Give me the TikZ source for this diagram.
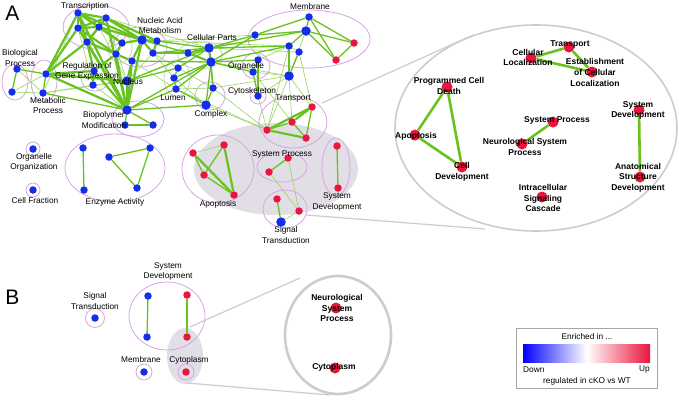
\documentclass[tikz,border=0pt]{standalone}
\usepackage{fontspec}
\setmainfont{Liberation Sans}
\definecolor{nblue}{RGB}{20,45,235}
\definecolor{nred}{RGB}{235,20,60}
\definecolor{egreen}{RGB}{105,195,30}
\definecolor{lgreen}{RGB}{150,215,90}
\definecolor{gpink}{RGB}{215,165,228}
\definecolor{zgray}{RGB}{205,205,205}
\definecolor{zfill}{RGB}{226,222,230}
\pgfdeclarelayer{bg}
\pgfdeclarelayer{edges}
\pgfsetlayers{bg,edges,main}
\tikzstyle{bn}   = [circle, fill=nblue, inner sep=0pt, minimum size=7.5pt]
\tikzstyle{bnb}  = [bn, minimum size=9.5pt]
\tikzstyle{rn}   = [circle, fill=nred, inner sep=0pt, minimum size=7.5pt]
\tikzstyle{rnz}  = [rn, minimum size=11pt]
\tikzstyle{egk}  = [draw=egreen, line width=2.2pt]
\tikzstyle{eg}   = [draw=egreen, line width=1.3pt]
\tikzstyle{egt}  = [draw=lgreen, line width=0.6pt]
\tikzstyle{egz}  = [draw=egreen, line width=2.6pt]
\tikzstyle{grp}  = [draw=gpink, line width=0.8pt]
\tikzstyle{grpg} = [draw=zgray, line width=0.8pt]
\tikzstyle{zline}= [draw=zgray, line width=1.2pt]
\tikzstyle{lbl}  = [inner sep=0pt, align=center, font=\fontsize{8.3}{10.3}\selectfont]
\tikzstyle{lblz} = [inner sep=0pt, align=center, font=\fontsize{8.5}{10.6}\selectfont\bfseries]
\def\pgrp#1#2#3#4{ \draw[grp] (#1,#2) ellipse ({#3pt} and {#4pt}); }
\def\ggrp#1#2#3#4{ \draw[grpg] (#1,#2) ellipse ({#3pt} and {#4pt}); }

\begin{document}
\begin{tikzpicture}[x=1pt, y=-1pt]
  \useasboundingbox (0,0) rectangle (679,400);

  \begin{pgfonlayer}{bg}
    \fill[white] (0,0) rectangle (679,400);
    \fill[zfill] (276,169) ellipse (82pt and 46pt);
    \fill[zfill] (185,356) ellipse (18pt and 28pt);
    \pgrp{96}{27}{33}{22}
    \pgrp{140}{47}{27}{20}
    \ggrp{120}{48}{12}{15}
    \pgrp{15}{82}{13}{18}
    \pgrp{44}{81}{13}{21}
    \pgrp{95}{78}{14}{13}
    \pgrp{138}{119}{26}{18}
    \ggrp{177}{78}{13}{18}
    \ggrp{200}{55}{22}{14}
    \pgrp{210}{96}{15}{14}
    \pgrp{256}{66}{14}{13}
    \pgrp{258}{96}{8}{8}
    \pgrp{309}{39}{61}{29}
    \pgrp{293}{122}{34}{26}
    \pgrp{218}{169}{36}{34}
    \pgrp{282}{167}{25}{15}
    \pgrp{336}{167}{14}{29}
    \pgrp{285}{209}{22}{19}
    \pgrp{33}{149}{7}{7}
    \pgrp{33}{190}{7}{7}
    \pgrp{115}{168}{50}{34}
    \pgrp{95}{318}{9.5}{9.5}
    \pgrp{167}{316}{38}{34}
    \pgrp{144}{372}{8}{8}
    \pgrp{186}{372}{8}{8}
    \draw[zgray, line width=1.6pt] (536,128) ellipse (141pt and 103pt);
    \draw[zgray, line width=2.6pt] (338,335) ellipse (53pt and 59pt);
  \end{pgfonlayer}

  \node[bn]  (tr1) at (78,13) {};
  \node[bn]  (tr2) at (106,18) {};
  \node[bn]  (tr3) at (78,28) {};
  \node[bn]  (tr4) at (99,27) {};
  \node[bn]  (tr5) at (87,42) {};
  \node[bn]  (na1) at (122,43) {};
  \node[bnb] (na2) at (142,40) {};
  \node[bn]  (na3) at (157,41) {};
  \node[bn]  (na4) at (116,54) {};
  \node[bn]  (na5) at (153,53) {};
  \node[bn]  (na6) at (132,61) {};
  \node[bn]  (rg1) at (94,71) {};
  \node[bn]  (rg2) at (93,85) {};
  \node[bnb] (nu1) at (127,81) {};
  \node[bn]  (bp1) at (17,69) {};
  \node[bn]  (bp2) at (12,92) {};
  \node[bn]  (mp1) at (46,74) {};
  \node[bn]  (mp2) at (43,93) {};
  \node[bnb] (bm1) at (127,110) {};
  \node[bn]  (bm2) at (153,125) {};
  \node[bn]  (bm3) at (125,125) {};
  \node[bnb] (cp1) at (209,48) {};
  \node[bnb] (cp2) at (211,62) {};
  \node[bn]  (cp3) at (188,53) {};
  \node[bn]  (lu1) at (178,68) {};
  \node[bn]  (lu2) at (174,78) {};
  \node[bn]  (lu3) at (176,89) {};
  \node[bn]  (cx1) at (213,88) {};
  \node[bnb] (cx2) at (206,105) {};
  \node[bn]  (og1) at (258,60) {};
  \node[bn]  (og2) at (253,72) {};
  \node[bn]  (cs1) at (258,96) {};
  \node[bn]  (mb0) at (255,35) {};
  \node[bn]  (mb1) at (309,17) {};
  \node[bnb] (mb2) at (306,31) {};
  \node[bn]  (mb3) at (289,46) {};
  \node[bn]  (mb4) at (299,52) {};
  \node[bnb] (mb5) at (289,76) {};
  \node[rn]  (mb6) at (354,43) {};
  \node[rn]  (mb7) at (336,60) {};
  \node[rn]  (tp1) at (312,107) {};
  \node[rn]  (tp2) at (292,122) {};
  \node[rn]  (tp3) at (267,130) {};
  \node[rn]  (tp4) at (306,138) {};
  \node[rn]  (ap1) at (193,153) {};
  \node[rn]  (ap2) at (224,145) {};
  \node[rn]  (ap3) at (204,175) {};
  \node[rn]  (ap4) at (234,195) {};
  \node[rn]  (sp1) at (288,158) {};
  \node[rn]  (sp2) at (269,172) {};
  \node[rn]  (sd1) at (337,146) {};
  \node[rn]  (sd2) at (338,188) {};
  \node[rn]  (st1) at (277,199) {};
  \node[rn]  (st2) at (299,211) {};
  \node[bnb] (st3) at (281,222) {};
  \node[bn]  (oo1) at (33,149) {};
  \node[bn]  (cf1) at (33,190) {};
  \node[bn]  (en1) at (83,148) {};
  \node[bn]  (en2) at (84,190) {};
  \node[bn]  (en3) at (109,157) {};
  \node[bn]  (en4) at (150,148) {};
  \node[bn]  (en5) at (137,188) {};

  \node[rnz] (zt)   at (569,47) {};
  \node[rnz] (zcl)  at (531,58) {};
  \node[rnz] (zes)  at (592,72) {};
  \node[rnz] (zpcd) at (447,87) {};
  \node[rnz] (zap)  at (415,135) {};
  \node[rnz] (zcd)  at (462,167) {};
  \node[rnz] (zsp)  at (553,122) {};
  \node[rnz] (znsp) at (522,144) {};
  \node[rnz] (zisc) at (542,197) {};
  \node[rnz] (zsd)  at (639,110) {};
  \node[rnz] (zasd) at (640,177) {};

  \node[bn]  (bst)  at (95,318) {};
  \node[bn]  (bsd1) at (148,296) {};
  \node[bn]  (bsd2) at (147,337) {};
  \node[rn]  (bsd3) at (187,295) {};
  \node[rn]  (bsd4) at (187,337) {};
  \node[bn]  (bmb)  at (144,372) {};
  \node[rn]  (bcy)  at (186,372) {};
  \node[rnz] (bznsp) at (336,308) {};
  \node[rnz] (bzcy)  at (335,368) {};

  \coordinate (za1) at (322,103);
  \coordinate (za2) at (473,35);
  \coordinate (za3) at (306,215);
  \coordinate (za4) at (485,229);
  \coordinate (zb1) at (190,327);
  \coordinate (zb2) at (300,278);
  \coordinate (zb3) at (187,383);
  \coordinate (zb4) at (330,395);

  \begin{pgfonlayer}{edges}
    \draw[zline] (za1) -- (za2);
    \draw[zline] (za3) -- (za4);
    \draw[zline] (zb1) -- (zb2);
    \draw[zline] (zb3) -- (zb4);
    \foreach \a/\b in {bp2/mp1, bp2/mp2, bp1/mp2, mp2/tr1, mp2/nu1, mp2/rg2,
        rg2/nu1, rg2/bm1, rg2/tr3, nu1/na5, nu1/tr2, nu1/tr4, na3/mb0, na5/lu1,
        na5/lu2, na6/lu3, tr2/cp1, tr4/cp3, lu1/cx1, lu2/cx2, lu3/cx1, og1/mb3,
        og2/mb5, cs1/mb5, cx1/mb5, cp2/mb5, mb5/tp1, mb5/tp2, mb5/tp3, mb4/tp1,
        mb3/tp3, cs1/tp3, cx1/tp3, og2/tp2, mb2/mb5, mb4/mb3, cp1/mb4, na3/mb3,
        sp2/st2, sp1/st2, st2/st3, ap1/ap2, cx2/tp3, lu3/tp3}
      \draw[egt] (\a) -- (\b);
    \foreach \a/\b in {na3/cp1, na5/cp1, na5/cp3, na2/cp3, na6/cp2, nu1/cp1,
        nu1/lu1, bm1/bm2, bm1/bm3, bm3/bm2, bm1/lu3, bm1/cx2, bm1/cp2, cp1/mb0,
        cp2/mb0, cp1/mb3, cp2/mb3, cp1/mb2, cp2/og1, cp2/og2, lu1/lu2, lu2/lu3,
        lu1/cp1, lu2/cp2, lu3/cp2, lu3/cx2, cx1/cx2, cx2/cp2, cx1/cp2, cx1/cp1,
        og1/og2, og2/cs1, og1/cs1, mb1/mb2, mb1/mb6, mb1/mb7, mb2/mb6, mb2/mb7,
        mb6/mb7, mb2/mb3, mb3/mb5, mb4/mb5, mb0/mb2, mb0/mb1, bp1/bp2, bp1/mp1,
        mp2/mp1, mp2/bm1, tp3/tp2, tp2/tp4, tp1/tp4, ap1/ap3, ap2/ap3, ap3/ap4,
        sp1/sp2, sd1/sd2, st1/st3, en1/en2, en3/en4, en4/en5, en3/en5,
        bsd1/bsd2, bsd3/bsd4}
      \draw[eg] (\a) -- (\b);
    \foreach \a/\b in {tr1/tr2, tr1/tr3, tr1/tr4, tr2/tr4, tr3/tr4, tr3/tr5,
        tr4/tr5, tr2/tr5, tr1/tr5, tr2/tr3, tr1/na2, tr2/na2, tr4/na1, tr5/na4,
        tr2/na3, tr4/na2, tr1/na1, tr3/na4, mp1/tr1, mp1/tr3, mp1/tr5, mp1/rg1,
        mp1/nu1, mp1/bm1, bm1/tr1, bm1/tr3, bm1/tr5, bm1/tr2, bm1/na4, bm1/na6,
        bm1/rg1, bm1/nu1, bm1/na2, na1/na2, na2/na3, na1/na4, na4/na6, na2/na6,
        na3/na5, na2/na5, na6/nu1, rg1/rg2, rg1/tr5, rg1/na4, cp1/cp2, cp1/cp3,
        cp2/cp3, tp1/tp2, tp1/tp3, tp3/tp4, ap1/ap4, ap2/ap4}
      \draw[egk] (\a) -- (\b);
    \foreach \a/\b in {zt/zcl, zt/zes, zcl/zes, zpcd/zap, zpcd/zcd, zap/zcd,
        zsp/znsp, zsd/zasd}
      \draw[egz] (\a) -- (\b);
  \end{pgfonlayer}

  \node[font=\fontsize{21}{21}\selectfont, inner sep=0pt] (pa) at (12.5,13) {A};
  \node[font=\fontsize{21}{21}\selectfont, inner sep=0pt] (pb) at (12.5,297) {B};

  \node[lbl] (l-tr)  at (85,6.5) {Transcription};
  \node[lbl] (l-na)  at (160,25.5) {Nucleic Acid\\Metabolism};
  \node[lbl] (l-bp)  at (20,58) {Biological\\Process};
  \node[lbl] (l-rg)  at (87,71) {Regulation of\\Gene Expression};
  \node[lbl] (l-nu)  at (128,82) {Nucleus};
  \node[lbl] (l-mp)  at (48,105.5) {Metabolic\\Process};
  \node[lbl] (l-bm)  at (104,120) {Biopolymer\\Modification};
  \node[lbl] (l-cp)  at (212,38) {Cellular Parts};
  \node[lbl] (l-og)  at (246,66) {Organelle};
  \node[lbl] (l-lu)  at (173,98) {Lumen};
  \node[lbl] (l-cs)  at (252,91) {Cytoskeleton};
  \node[lbl] (l-cx)  at (211,114) {Complex};
  \node[lbl] (l-tp)  at (293,99) {Transport};
  \node[lbl] (l-mb)  at (310,7) {Membrane};
  \node[lbl] (l-sp)  at (282,154) {System Process};
  \node[lbl] (l-ap)  at (218,204) {Apoptosis};
  \node[lbl] (l-sd)  at (337,202) {System\\Development};
  \node[lbl] (l-st)  at (286,235) {Signal\\Transduction};
  \node[lbl] (l-oo)  at (34,162) {Organelle\\Organization};
  \node[lbl] (l-cf)  at (35,201) {Cell Fraction};
  \node[lbl] (l-en)  at (115,202) {Enzyme Activity};

  \node[lblz] (lz-t)   at (570,44) {Transport};
  \node[lblz] (lz-cl)  at (528,57.5) {Cellular\\Localization};
  \node[lblz] (lz-es)  at (595,72.5) {Establishment\\of Cellular\\Localization};
  \node[lblz] (lz-pcd) at (449,86) {Programmed Cell\\Death};
  \node[lblz] (lz-ap)  at (416,136) {Apoptosis};
  \node[lblz] (lz-sp)  at (557,120) {System Process};
  \node[lblz] (lz-nsp) at (525,147) {Neurological System\\Process};
  \node[lblz] (lz-cd)  at (462,171.5) {Cell\\Development};
  \node[lblz] (lz-isc) at (543,198) {Intracellular\\Signaling\\Cascade};
  \node[lblz] (lz-sd)  at (638,110.5) {System\\Development};
  \node[lblz] (lz-asd) at (638,177.5) {Anatomical\\Structure\\Development};

  \node[lbl] (lb-st) at (95,301) {Signal\\Transduction};
  \node[lbl] (lb-sd) at (168,271.5) {System\\Development};
  \node[lbl] (lb-mb) at (141,360) {Membrane};
  \node[lbl] (lb-cy) at (189,360) {Cytoplasm};
  \node[lblz] (lbz-nsp) at (337,308) {Neurological\\System\\Process};
  \node[lblz] (lbz-cy)  at (334,367) {Cytoplasm};

  \node[draw=gray!70, line width=0.8pt, minimum width=141pt, minimum height=60pt,
        inner sep=0pt] (legend) at (586.5,358) {};
  \shade[left color=blue, right color=nred, middle color=white]
        (523,344) rectangle (650,362);
  \node[lbl] (lg-t)  at (587,337) {Enriched in ...};
  \node[lbl, anchor=west] (lg-dn) at (523,369.5) {Down};
  \node[lbl, anchor=east] (lg-up) at (650,369.5) {Up};
  \node[lbl] (lg-b)  at (587,381) {regulated in cKO vs WT};
\end{tikzpicture}
\end{document}
